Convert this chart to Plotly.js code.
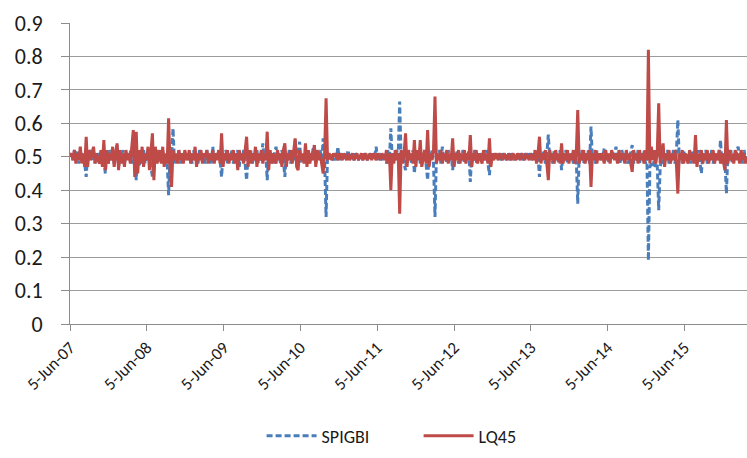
<!DOCTYPE html>
<html>
<head>
<meta charset="utf-8">
<script src="https://cdn.plot.ly/plotly-3.0.1.min.js"></script>
<style>html,body{margin:0;padding:0;background:#fff;}#chart{width:747px;height:458px;}</style>
</head>
<body>
<div id="chart"></div>
<script>
// Weekly observations starting 5-Jun-2007
const startDate = '2007-06-05';
const stepDays = 7;

const tickDates = ['2007-06-05','2008-06-05','2009-06-05','2010-06-05','2011-06-05','2012-06-05','2013-06-05','2014-06-05','2015-06-05'];
const tickLabels = ['5-Jun-07','5-Jun-08','5-Jun-09','5-Jun-10','5-Jun-11','5-Jun-12','5-Jun-13','5-Jun-14','5-Jun-15'];

const SPIGBI = [
0.50,0.51,0.49,0.52,0.50,0.52,0.48,0.52,0.49,0.51,0.48,0.44,0.51,0.50,0.52,0.49,0.525,0.48,0.51,0.50,
0.51,0.49,0.52,0.50,0.45,0.51,0.48,0.52,0.49,0.51,0.48,0.50,0.535,0.47,0.51,0.49,0.52,0.48,0.51,0.50,
0.49,0.52,0.48,0.51,0.49,0.43,0.52,0.47,0.51,0.49,0.52,0.48,0.51,0.49,0.52,0.47,0.44,0.51,0.49,0.52,
0.50,0.51,0.49,0.52,0.48,0.51,0.49,0.385,0.51,0.50,0.585,0.48,0.51,0.49,0.52,0.48,0.51,0.50,0.49,0.51,
0.50,0.49,0.51,0.48,0.52,0.49,0.51,0.48,0.52,0.50,0.49,0.51,0.48,0.52,0.49,0.51,0.48,0.53,0.49,0.51,
0.50,0.51,0.49,0.44,0.51,0.49,0.52,0.48,0.51,0.49,0.52,0.48,0.51,0.49,0.52,0.47,0.51,0.49,0.52,0.48,
0.43,0.51,0.49,0.52,0.48,0.51,0.49,0.52,0.48,0.51,0.49,0.54,0.49,0.51,0.43,0.52,0.49,0.51,0.48,0.51,
0.53,0.49,0.51,0.48,0.52,0.49,0.44,0.51,0.49,0.52,0.48,0.51,0.49,0.55,0.48,0.51,0.545,0.48,0.51,0.49,
0.49,0.52,0.48,0.51,0.49,0.52,0.535,0.48,0.51,0.49,0.52,0.48,0.555,0.49,0.32,0.51,0.49,0.51,0.50,0.49,
0.50,0.49,0.53,0.49,0.51,0.50,0.49,0.51,0.50,0.52,0.49,0.51,0.50,0.49,0.51,0.50,0.49,0.51,0.50,0.49,
0.51,0.50,0.49,0.51,0.50,0.49,0.51,0.50,0.53,0.49,0.51,0.50,0.49,0.51,0.50,0.48,0.52,0.49,0.585,0.49,
0.51,0.49,0.52,0.50,0.665,0.49,0.51,0.48,0.46,0.52,0.49,0.51,0.48,0.52,0.45,0.51,0.49,0.52,0.48,0.51,
0.49,0.52,0.48,0.43,0.51,0.49,0.52,0.48,0.32,0.51,0.49,0.52,0.48,0.53,0.49,0.51,0.48,0.52,0.49,0.51,
0.46,0.51,0.49,0.52,0.48,0.51,0.49,0.52,0.48,0.51,0.49,0.52,0.425,0.51,0.49,0.52,0.48,0.51,0.49,0.51,
0.50,0.51,0.49,0.52,0.48,0.445,0.51,0.49,0.51,0.50,0.49,0.51,0.50,0.49,0.51,0.50,0.49,0.51,0.50,0.49,
0.51,0.50,0.49,0.51,0.50,0.49,0.51,0.50,0.49,0.51,0.50,0.49,0.51,0.50,0.49,0.51,0.49,0.51,0.50,0.44,
0.51,0.49,0.52,0.48,0.51,0.566,0.49,0.51,0.48,0.52,0.49,0.51,0.48,0.52,0.46,0.51,0.49,0.52,0.48,0.51,
0.49,0.51,0.48,0.52,0.49,0.36,0.51,0.49,0.52,0.48,0.51,0.49,0.52,0.48,0.59,0.49,0.51,0.48,0.52,0.49,
0.51,0.49,0.50,0.525,0.49,0.51,0.48,0.51,0.50,0.49,0.51,0.53,0.49,0.51,0.48,0.52,0.49,0.51,0.50,0.48,
0.49,0.51,0.535,0.48,0.51,0.49,0.52,0.48,0.51,0.49,0.52,0.48,0.50,0.19,0.47,0.48,0.47,0.49,0.47,0.48,
0.34,0.47,0.49,0.48,0.51,0.49,0.52,0.48,0.51,0.49,0.52,0.48,0.51,0.61,0.49,0.51,0.48,0.52,0.49,0.51,
0.49,0.51,0.48,0.52,0.49,0.51,0.48,0.52,0.49,0.45,0.51,0.49,0.52,0.48,0.51,0.49,0.52,0.48,0.51,0.49,
0.51,0.49,0.55,0.48,0.51,0.49,0.39,0.51,0.49,0.52,0.48,0.51,0.49,0.52,0.53,0.49,0.51,0.48,0.52,0.49,
0.51
];

const LQ45 = [
0.50,0.51,0.49,0.52,0.48,0.51,0.49,0.53,0.48,0.51,0.47,0.56,0.47,0.52,0.49,0.51,0.53,0.48,0.51,0.49,
0.48,0.52,0.47,0.55,0.46,0.52,0.48,0.51,0.49,0.53,0.47,0.51,0.54,0.46,0.52,0.48,0.51,0.47,0.52,0.49,
0.51,0.48,0.53,0.58,0.44,0.575,0.45,0.52,0.48,0.53,0.47,0.51,0.49,0.53,0.46,0.52,0.57,0.43,0.53,0.48,
0.49,0.52,0.48,0.53,0.47,0.51,0.48,0.615,0.47,0.41,0.52,0.49,0.51,0.48,0.52,0.49,0.51,0.48,0.52,0.50,
0.49,0.52,0.48,0.51,0.49,0.53,0.47,0.51,0.49,0.52,0.48,0.51,0.50,0.52,0.48,0.51,0.49,0.52,0.48,0.51,
0.49,0.52,0.48,0.57,0.47,0.51,0.49,0.52,0.48,0.51,0.49,0.52,0.48,0.51,0.46,0.52,0.49,0.51,0.48,0.52,
0.56,0.47,0.52,0.48,0.51,0.49,0.53,0.47,0.51,0.49,0.52,0.48,0.51,0.49,0.575,0.46,0.52,0.48,0.51,0.49,
0.48,0.52,0.49,0.51,0.47,0.52,0.54,0.47,0.51,0.49,0.52,0.48,0.51,0.555,0.47,0.46,0.52,0.49,0.51,0.48,
0.54,0.47,0.52,0.48,0.51,0.49,0.535,0.47,0.52,0.49,0.51,0.48,0.45,0.51,0.675,0.49,0.51,0.50,0.49,0.51,
0.50,0.51,0.49,0.51,0.50,0.49,0.51,0.50,0.49,0.51,0.49,0.50,0.51,0.49,0.50,0.51,0.49,0.50,0.51,0.49,
0.50,0.51,0.49,0.50,0.51,0.49,0.51,0.50,0.49,0.51,0.50,0.49,0.51,0.50,0.49,0.52,0.48,0.51,0.40,0.51,
0.48,0.52,0.49,0.51,0.33,0.52,0.48,0.51,0.57,0.47,0.52,0.49,0.51,0.48,0.55,0.47,0.52,0.49,0.55,0.47,
0.49,0.52,0.48,0.58,0.47,0.51,0.49,0.52,0.68,0.48,0.51,0.49,0.52,0.48,0.51,0.49,0.52,0.48,0.51,0.49,
0.555,0.47,0.51,0.49,0.52,0.48,0.51,0.49,0.52,0.48,0.51,0.49,0.565,0.47,0.51,0.49,0.52,0.48,0.51,0.49,
0.48,0.52,0.49,0.51,0.48,0.555,0.47,0.51,0.49,0.51,0.50,0.49,0.51,0.50,0.49,0.51,0.50,0.49,0.51,0.50,
0.49,0.51,0.50,0.49,0.51,0.50,0.49,0.51,0.50,0.49,0.51,0.50,0.49,0.51,0.50,0.49,0.52,0.48,0.51,0.56,
0.48,0.51,0.49,0.52,0.48,0.43,0.52,0.49,0.51,0.48,0.52,0.49,0.51,0.48,0.54,0.48,0.51,0.49,0.52,0.48,
0.51,0.49,0.52,0.48,0.51,0.64,0.48,0.51,0.49,0.52,0.48,0.51,0.49,0.52,0.41,0.51,0.49,0.52,0.48,0.51,
0.49,0.51,0.50,0.48,0.52,0.49,0.51,0.48,0.52,0.50,0.49,0.51,0.48,0.52,0.49,0.51,0.50,0.48,0.52,0.49,
0.51,0.48,0.455,0.52,0.49,0.51,0.48,0.52,0.49,0.51,0.48,0.52,0.49,0.82,0.48,0.53,0.49,0.52,0.48,0.51,
0.66,0.48,0.52,0.54,0.47,0.51,0.49,0.52,0.48,0.51,0.49,0.52,0.48,0.39,0.51,0.49,0.52,0.48,0.51,0.49,
0.48,0.52,0.49,0.51,0.48,0.565,0.47,0.51,0.49,0.52,0.48,0.51,0.49,0.52,0.48,0.51,0.49,0.52,0.48,0.51,
0.49,0.52,0.48,0.51,0.49,0.46,0.61,0.48,0.52,0.49,0.51,0.48,0.52,0.49,0.51,0.48,0.52,0.49,0.51,0.48,
0.50
];

function datesFor(n) {
  const out = [];
  const t0 = Date.parse(startDate + 'T00:00:00Z');
  for (let i = 0; i < n; i++) {
    out.push(new Date(t0 + i * stepDays * 86400000).toISOString().slice(0, 10));
  }
  return out;
}

const font = 'Carlito, "Liberation Sans Narrow", "Liberation Sans", Arial, sans-serif';

const traces = [
  {
    type: 'scatter', mode: 'lines', name: 'SPIGBI',
    x: datesFor(SPIGBI.length), y: SPIGBI,
    line: {color: '#4a7ebb', width: 3, dash: '6px,3px'}
  },
  {
    type: 'scatter', mode: 'lines', name: 'LQ45',
    x: datesFor(LQ45.length), y: LQ45,
    line: {color: '#be4b48', width: 3}
  }
];

const layout = {
  width: 747, height: 458,
  margin: {l: 70, r: 0, t: 23, b: 134},
  paper_bgcolor: '#ffffff', plot_bgcolor: '#ffffff',
  showlegend: true,
  font: {family: font, color: '#1a1a1a'},
  xaxis: {
    type: 'date',
    range: ['2007-06-05', '2016-03-29'],
    tickvals: tickDates, ticktext: tickLabels,
    tickangle: -45,
    tickfont: {family: font, size: 17, color: '#1a1a1a'},
    showgrid: false, zeroline: false,
    showline: true, linecolor: '#8c8c8c', linewidth: 1,
    ticks: 'outside', ticklen: 6, tickcolor: '#8c8c8c'
  },
  yaxis: {
    range: [0, 0.9], dtick: 0.1, tick0: 0,
    tickfont: {family: font, size: 22, color: '#1a1a1a'},
    showgrid: true, gridcolor: '#9c9c9c', gridwidth: 1,
    zeroline: false,
    showline: true, linecolor: '#8c8c8c', linewidth: 1,
    ticks: 'outside', ticklen: 8, tickcolor: '#8c8c8c',
    ticklabelstandoff: 14
  },
  legend: {
    orientation: 'h', x: 0.283, xanchor: 'left', y: -0.372, yanchor: 'middle',
    font: {family: font, size: 18, color: '#1a1a1a'},
    entrywidth: 92, entrywidthmode: 'pixels',
    itemwidth: 50
  }
};

Plotly.newPlot('chart', traces, layout, {staticPlot: true, displayModeBar: false});
</script>
</body>
</html>
